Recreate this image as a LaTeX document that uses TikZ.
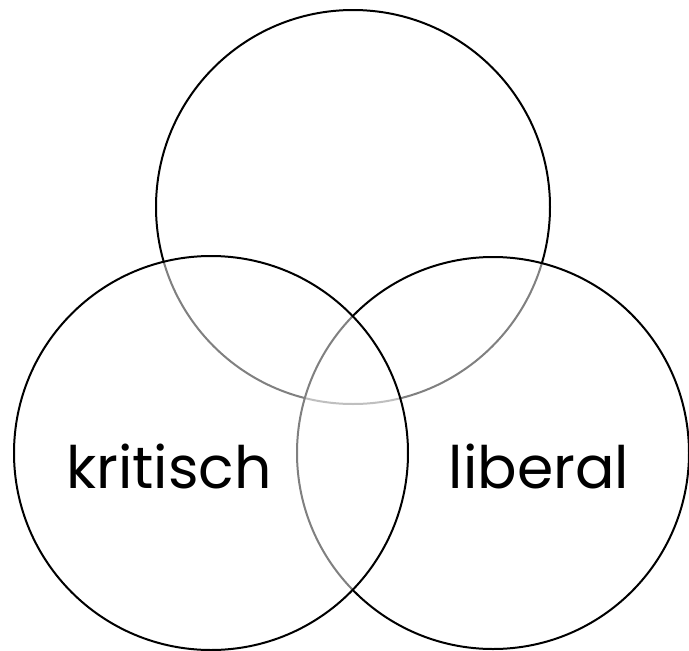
\documentclass[tikz,border=0pt]{standalone}
\usepackage{fontspec}
\setmainfont{Poppins}
\begin{document}
\begin{tikzpicture}[x=1pt,y=-1pt,
  venn/.style={draw=black,line width=2pt,fill=white,fill opacity=0.5,draw opacity=1},
  lbl/.style={font=\fontsize{58.5}{62}\selectfont,text=black,inner sep=0pt,anchor=base}]
\useasboundingbox (0,0) rectangle (689,651);
\path[venn] (353,207) circle[radius=197];
\path[venn] (493,453) circle[radius=196];
\path[venn] (211,453) circle[radius=197];
\node[lbl] (k) at (169,488) {kritisch};
\node[lbl] (l) at (539,488) {liberal};
\end{tikzpicture}
\end{document}
